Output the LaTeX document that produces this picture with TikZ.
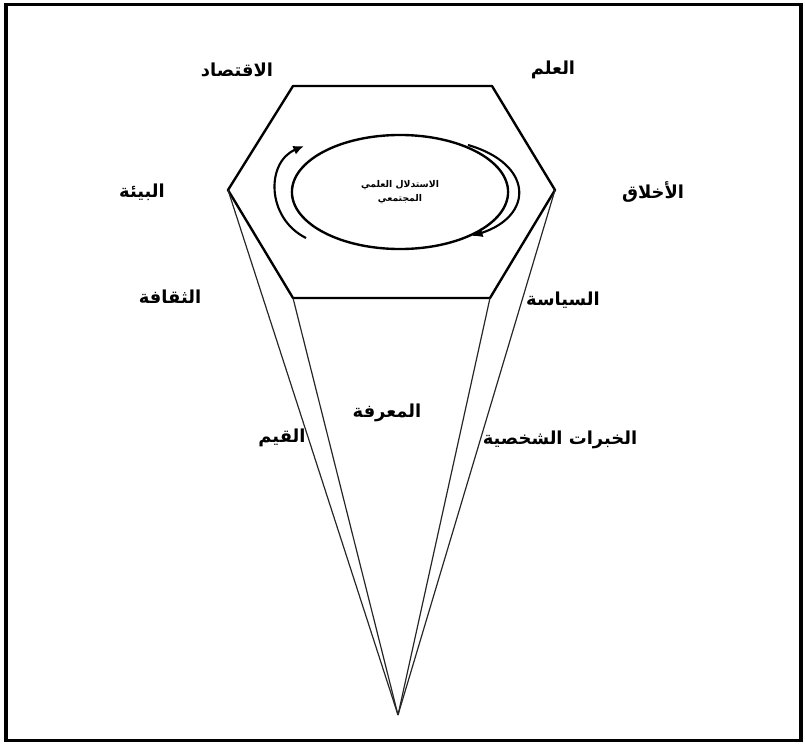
\documentclass[tikz,border=0pt]{standalone}
\usepackage{fontspec}
\newfontfamily\arabicfont[Script=Arabic]{DejaVu Sans}
\TeXXeTstate=1
\usetikzlibrary{arrows.meta,positioning,shapes}

\newcommand{\artxt}[1]{\beginR #1\endR}

\begin{document}
\begin{tikzpicture}[x=0.0265cm,y=-0.0265cm,
  lbl/.style={font=\arabicfont\bfseries\fontsize{13.5}{15}\selectfont},
  small/.style={font=\arabicfont\bfseries\fontsize{7}{11}\selectfont,align=center},
  edge/.style={line width=1.8pt},
  ray/.style={line width=0.9pt,black!85},
  turn/.style={line width=1.6pt,-{Latex[length=8pt,width=7pt]}}]
\useasboundingbox (0,0) rectangle (805,744);
\draw[line width=2.4pt] (6,4.5) rectangle (801,740.5);
% hexagon
\coordinate (h1) at (293,86);
\coordinate (h2) at (492,86);
\coordinate (h3) at (555,190);
\coordinate (h4) at (490,298);
\coordinate (h5) at (293,298);
\coordinate (h6) at (228,190);
\coordinate (apex) at (398,715);
\draw[edge,line join=round] (h1) -- (h2) -- (h3) -- (h4) -- (h5) -- (h6) -- cycle;
\draw[ray] (h6) -- (apex);
\draw[ray] (h5) -- (apex);
\draw[ray] (h3) -- (apex);
\draw[ray] (h4) -- (apex);
% center
\node[draw,ellipse,line width=1.8pt,minimum width=163pt,minimum height=86pt,small] (core) at (400,192)
  {\artxt{الاستدلال العلمي}\\\artxt{المجتمعي}};
\coordinate (la1) at (306,238);
\coordinate (la2) at (304,146);
\coordinate (ra1) at (468,145);
\coordinate (ra2) at (472,236);
\draw[turn] (la1) .. controls (266,218) and (266,162) .. (la2);
\draw[turn] (ra1) .. controls (534,164) and (534,216) .. (ra2);
% labels
\node[lbl] (econ) at (237,70) {\artxt{الاقتصاد}};
\node[lbl] (sci) at (553,70) {\artxt{العلم}};
\node[lbl] (env) at (142,192) {\artxt{البيئة}};
\node[lbl] (ethics) at (653,192) {\artxt{الأخلاق}};
\node[lbl] (culture) at (170,297) {\artxt{الثقافة}};
\node[lbl] (politics) at (563,300) {\artxt{السياسة}};
\node[lbl] (know) at (387,413) {\artxt{المعرفة}};
\node[lbl] (values) at (282,438) {\artxt{القيم}};
\node[lbl] (exper) at (560,440) {\artxt{الخبرات الشخصية}};
\end{tikzpicture}
\end{document}
